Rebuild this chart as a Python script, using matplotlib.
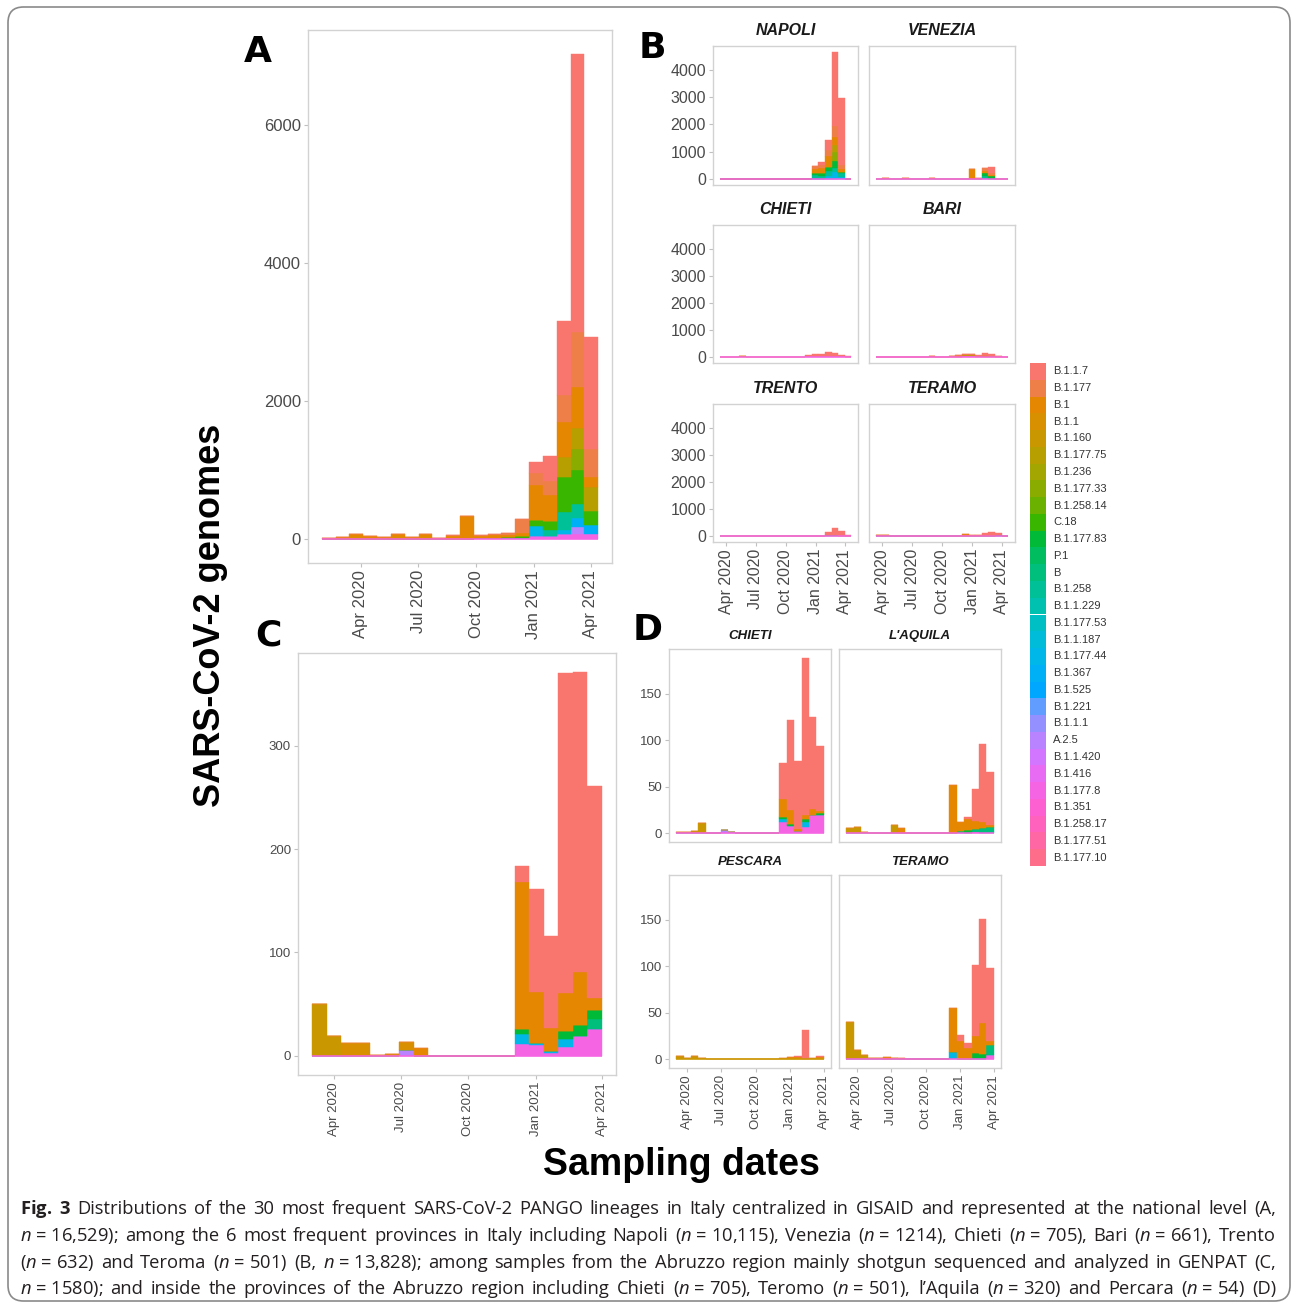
import numpy as np
import matplotlib
matplotlib.use('Agg')
import matplotlib.pyplot as plt
import matplotlib.dates as mdates
from matplotlib.patches import Rectangle, FancyBboxPatch

W, H = 1292, 1307
CAP_FONT = 'Open Sans'
plt.rcParams['font.family'] = ['Liberation Sans', 'DejaVu Sans']
plt.rcParams['mathtext.fontset'] = 'custom'
plt.rcParams['mathtext.rm'] = CAP_FONT
plt.rcParams['mathtext.it'] = CAP_FONT + ':italic'
plt.rcParams['mathtext.bf'] = CAP_FONT + ':bold'

# ---- data -------------------------------------------------------------
LINEAGES = ['B.1.1.7', 'B.1.177', 'B.1', 'B.1.1', 'B.1.160', 'B.1.177.75', 'B.1.236',
            'B.1.177.33', 'B.1.258.14', 'C.18', 'B.1.177.83', 'P.1', 'B', 'B.1.258',
            'B.1.1.229', 'B.1.177.53', 'B.1.1.187', 'B.1.177.44', 'B.1.367', 'B.1.525',
            'B.1.221', 'B.1.1.1', 'A.2.5', 'B.1.1.420', 'B.1.416', 'B.1.177.8', 'B.1.351',
            'B.1.258.17', 'B.1.177.51', 'B.1.177.10']

NBINS = 20
A_RANGE = ('2020-01-30', '2021-04-13')
B_RANGE = ('2020-03-12', '2021-04-21')
CD_RANGE = ('2020-03-03', '2021-04-01')
TICK_DATES = ['2020-04-01', '2020-07-01', '2020-10-01', '2021-01-01', '2021-04-01']
TICK_LABELS = ['Apr 2020', 'Jul 2020', 'Oct 2020', 'Jan 2021', 'Apr 2021']

# counts per lineage: {bin index: genomes}
italy = {
    'B.1.1.7': {15: 168, 16: 375, 17: 1070, 18: 4020, 19: 1617},
    'B.1.177': {9: 20, 11: 10, 12: 20, 13: 30, 14: 200, 15: 168, 16: 192, 17: 400, 18: 800, 19: 400},
    'B.1': {0: 5, 1: 15, 2: 50, 3: 20, 4: 10, 5: 45, 6: 15, 7: 40, 8: 10, 9: 40, 10: 327,
            11: 30, 12: 40, 13: 40, 14: 50, 15: 505, 16: 385, 17: 500, 18: 600, 19: 150},
    'B.1.1': {1: 5, 2: 25, 3: 15, 4: 10, 5: 20, 6: 10, 7: 30},
    'B.1.177.75': {17: 300, 18: 300, 19: 350},
    'B.1.177.33': {18: 300},
    'C.18': {11: 5, 12: 10, 13: 10, 14: 15, 15: 96, 16: 120, 17: 500, 18: 500, 19: 200},
    'B.1.258': {13: 5, 14: 8, 16: 96, 17: 260, 18: 200},
    'B.1.177.44': {15: 144, 17: 60},
    'B.1.367': {18: 125, 19: 125},
    'A.2.5': {18: 100},
    'B.1.177.8': {11: 5, 12: 5, 13: 5, 14: 10, 15: 38, 16: 38, 17: 70, 18: 75, 19: 75},
}

napoli = {
    'B.1.1.7': {15: 108, 16: 365, 17: 2700, 18: 2480},
    'B.1.177': {14: 104, 15: 100, 16: 235, 17: 400, 18: 150},
    'B.1': {3: 5, 6: 5, 14: 150, 15: 200, 16: 400, 17: 300, 18: 100},
    'B.1.177.75': {17: 250},
    'B.1.177.33': {17: 350},
    'B.1.177.83': {14: 100, 15: 100, 16: 150, 17: 250, 18: 50},
    'B.1.258': {14: 120, 15: 100, 16: 170, 17: 150, 18: 150},
    'B.1.177.44': {16: 100, 17: 250},
    'B.1.367': {18: 50},
    'B.1.177.8': {19: 2},
}
venezia = {
    'B.1.1.7': {17: 200},
    'B.1.177': {15: 16, 16: 90, 17: 75},
    'B.1': {1: 10, 4: 10, 8: 10, 14: 353, 16: 100, 17: 50},
    'B.1.177.83': {16: 100, 17: 100},
    'B.1.258': {16: 100},
    'B.1.177.8': {12: 1},
}
chieti_b = {
    'B.1.1.7': {13: 30, 14: 75, 15: 85, 16: 130, 17: 110, 18: 45, 19: 20},
    'B.1': {13: 30, 14: 25, 15: 15, 16: 15, 17: 10, 18: 5},
    'B.1.160': {0: 2, 1: 2, 3: 11},
    'B.1.177.8': {5: 4, 13: 10, 14: 15, 15: 10, 16: 20, 17: 20, 18: 10, 19: 5},
}
bari = {
    'B.1.1.7': {15: 50, 16: 80, 17: 70, 18: 20},
    'B.1.177': {12: 30, 13: 60, 14: 60, 15: 20, 16: 30, 17: 20, 18: 5},
    'B.1': {2: 6, 8: 10, 11: 20, 12: 30},
    'B.1.177.75': {13: 40, 14: 45, 15: 10, 16: 20, 17: 10, 18: 5},
    'B.1.177.8': {13: 10, 14: 10},
}
trento = {
    'B.1.1.7': {16: 110, 17: 240, 18: 165, 19: 35},
    'B.1.177': {0: 4, 16: 10, 17: 15, 18: 10, 19: 5},
    'B.1': {5: 4, 9: 4},
    'B.1.177.83': {16: 10, 17: 15, 18: 5},
    'B.1.177.8': {17: 1},
}
teramo_b = {
    'B.1.1.7': {14: 6, 15: 6, 16: 77, 17: 110, 18: 60},
    'B.1': {13: 47, 14: 19, 15: 14, 16: 20, 17: 33, 18: 10},
    'B.1.160': {0: 45, 1: 10, 2: 5},
    'B.1.177.83': {16: 7, 17: 6},
    'B': {18: 10},
    'B.1.177.44': {13: 8},
    'B.1.177.8': {18: 5},
}

abruzzo = {
    'B.1.1.7': {14: 16, 15: 99, 16: 89, 17: 309, 18: 290, 19: 205},
    'B.1': {7: 8, 14: 142, 15: 50, 16: 22, 17: 37, 18: 51, 19: 12},
    'B.1.1': {2: 12, 3: 12, 4: 1, 5: 2, 6: 7},
    'B.1.160': {0: 50, 1: 19},
    'B.1.177.83': {14: 5, 17: 8, 18: 11, 19: 8},
    'B': {19: 10},
    'B.1.177.44': {14: 10, 15: 2, 16: 2, 17: 7},
    'A.2.5': {6: 6},
    'B.1.177.8': {14: 11, 15: 10, 16: 3, 17: 9, 18: 19, 19: 26},
}

chieti_d = {
    'B.1.1.7': {14: 39, 15: 97, 16: 73, 17: 169, 18: 99, 19: 70},
    'B.1': {14: 20, 15: 15, 16: 3, 17: 5, 18: 6, 19: 2},
    'B.1.160': {0: 1, 1: 1, 2: 2, 3: 11},
    'B.1.177.83': {14: 2, 15: 2, 17: 3, 19: 2},
    'B.1.177.44': {14: 3, 17: 5},
    'A.2.5': {6: 4, 7: 1},
    'B.1.177.8': {14: 12, 15: 8, 16: 2, 17: 7, 18: 20, 19: 20},
}
laquila = {
    'B.1.1.7': {16: 3, 17: 35, 18: 84, 19: 57},
    'B.1': {7: 6, 14: 52, 15: 10, 16: 12, 17: 8, 18: 6, 19: 2},
    'B.1.160': {0: 6, 1: 7, 2: 1, 6: 9},
    'B.1.177.83': {16: 3},
    'B': {15: 2, 17: 4, 18: 6, 19: 7},
    'B.1.177.8': {17: 1},
}
pescara = {
    'B.1.1.7': {16: 2, 17: 32, 19: 1},
    'B.1': {14: 1, 15: 2, 16: 2, 18: 1, 19: 2},
    'B.1.160': {0: 3, 1: 1, 2: 4, 3: 1},
}
teramo_d = {
    'B.1.1.7': {15: 6, 16: 6, 17: 77, 18: 112, 19: 78},
    'B.1': {5: 2, 7: 1, 14: 47, 15: 20, 16: 12, 17: 18, 18: 33, 19: 5},
    'B.1.160': {0: 40, 1: 10, 2: 5, 3: 1, 4: 1, 6: 1},
    'B.1.177.83': {17: 7, 18: 6},
    'B': {19: 10},
    'B.1.177.44': {14: 8},
    'B.1.177.8': {19: 5},
}

CAPTION = [
    r'$\mathbf{Fig.}$ $\mathbf{3}$ Distributions of the 30 most frequent SARS-CoV-2 PANGO lineages in Italy '
    r'centralized in GISAID and represented at the national level (A,',
    r'$n$ = 16,529); among the 6 most frequent provinces in Italy including Napoli ($n$ = 10,115), '
    r'Venezia ($n$ = 1214), Chieti ($n$ = 705), Bari ($n$ = 661), Trento',
    r'($n$ = 632) and Teroma ($n$ = 501) (B, $n$ = 13,828); among samples from the Abruzzo region '
    r'mainly shotgun sequenced and analyzed in GENPAT (C,',
    r'$n$ = 1580); and inside the provinces of the Abruzzo region including Chieti ($n$ = 705), '
    r'Teromo ($n$ = 501), l’Aquila ($n$ = 320) and Percara ($n$ = 54) (D)',
]


# ggplot default hue palette (hcl, c=100, l=65)
def hue_pal(n, c=100, l=65):
    out = []
    Xn, Yn, Zn = 95.047, 100.0, 108.883
    un = 4 * Xn / (Xn + 15 * Yn + 3 * Zn)
    vn = 9 * Yn / (Xn + 15 * Yn + 3 * Zn)
    M = np.array([[3.240479, -1.537150, -0.498535],
                  [-0.969256, 1.875992, 0.041556],
                  [0.055648, -0.204043, 1.057311]])
    for h in np.linspace(15, 375, n + 1)[:-1]:
        hr = np.deg2rad(h)
        u, v = c * np.cos(hr), c * np.sin(hr)
        Y = Yn * ((l + 16) / 116) ** 3
        up = u / (13 * l) + un
        vp = v / (13 * l) + vn
        X = 9 * Y * up / (4 * vp)
        Z = Y * (12 - 3 * up - 20 * vp) / (4 * vp)
        rgb = M @ np.array([X, Y, Z]) / 100
        rgb = np.where(rgb > 0.0031308, 1.055 * np.abs(rgb) ** (1 / 2.4) - 0.055, 12.92 * rgb)
        out.append(tuple(np.clip(rgb, 0, 1)))
    return out


PAL = hue_pal(len(LINEAGES))


def dnum(s):
    return mdates.date2num(np.datetime64(s))


def totals(counts):
    t = np.zeros(NBINS)
    for name in counts:
        for b, v in counts[name].items():
            t[b] += v
    return t


def px_axes(fig, x0, y0, x1, y1):
    return fig.add_axes([x0 / W, 1 - y1 / H, (x1 - x0) / W, (y1 - y0) / H])


def draw_hist(ax, counts, drange, ymax):
    s, e = dnum(drange[0]), dnum(drange[1])
    edges = np.linspace(s, e, NBINS + 1)
    bottom = np.zeros(NBINS)
    present = [i for i, name in enumerate(LINEAGES) if name in counts]
    for i in reversed(present):
        h = np.zeros(NBINS)
        for b, v in counts[LINEAGES[i]].items():
            h[b] = v
        ax.bar(edges[:-1], h, width=np.diff(edges), bottom=bottom, align='edge',
               color=PAL[i], edgecolor=PAL[i], linewidth=0.3)
        bottom += h
    ax.plot([edges[0], edges[-1]], [0, 0], color=PAL[max(present)], lw=1.1,
            solid_capstyle='butt')
    pad = 0.05 * (e - s)
    ax.set_xlim(s - pad, e + pad)
    ax.set_ylim(-0.05 * ymax, 1.05 * ymax)


def style(ax, yticks, fs, show_x=True, show_y=True):
    for sp in ax.spines.values():
        sp.set_color('#d2d2d2')
        sp.set_linewidth(1.0)
    ax.set_xticks([dnum(d) for d in TICK_DATES])
    ax.set_xticklabels(TICK_LABELS, rotation=90)
    ax.set_yticks(yticks)
    ax.tick_params(color='#c0c0c0', labelcolor='#4a4a4a', labelsize=fs,
                   length=3, width=0.8, pad=2)
    if not show_x:
        ax.tick_params(axis='x', length=0, labelbottom=False)
    if not show_y:
        ax.tick_params(axis='y', length=0, labelleft=False)


def facet_title(ax, txt, fs, off):
    ax.annotate(txt, xy=(0.5, 1), xycoords='axes fraction', xytext=(0, off),
                textcoords='offset points', ha='center', va='center',
                fontsize=fs, fontweight='bold', fontstyle='italic', color='#1a1a1a')


fig = plt.figure(figsize=(W / 100, H / 100), dpi=100)

# ---- A ----
axA = px_axes(fig, 308, 30, 612, 563)
draw_hist(axA, italy, A_RANGE, totals(italy).max())
style(axA, [0, 2000, 4000, 6000], 12)

# ---- B ----
b_facets = [('NAPOLI', napoli), ('VENEZIA', venezia), ('CHIETI', chieti_b),
            ('BARI', bari), ('TRENTO', trento), ('TERAMO', teramo_b)]
b_max = max(totals(c).max() for _, c in b_facets)
b_cols = [(713, 858), (869, 1015)]
b_rows = [(46, 185), (225, 363), (404, 542)]
for k, (name, cnt) in enumerate(b_facets):
    r, c = divmod(k, 2)
    ax = px_axes(fig, b_cols[c][0], b_rows[r][0], b_cols[c][1], b_rows[r][1])
    draw_hist(ax, cnt, B_RANGE, b_max)
    style(ax, [0, 1000, 2000, 3000, 4000], 11.5, show_x=(r == 2), show_y=(c == 0))
    facet_title(ax, name, 11.5, 11)

# ---- C ----
axC = px_axes(fig, 298, 653, 616, 1075)
draw_hist(axC, abruzzo, CD_RANGE, totals(abruzzo).max())
style(axC, [0, 100, 200, 300], 9.5)

# ---- D ----
d_facets = [('CHIETI', chieti_d), ("L'AQUILA", laquila), ('PESCARA', pescara),
            ('TERAMO', teramo_d)]
d_max = max(totals(c).max() for _, c in d_facets)
d_cols = [(669, 831), (839, 1001)]
d_rows = [(649, 842), (875, 1068)]
for k, (name, cnt) in enumerate(d_facets):
    r, c = divmod(k, 2)
    ax = px_axes(fig, d_cols[c][0], d_rows[r][0], d_cols[c][1], d_rows[r][1])
    draw_hist(ax, cnt, CD_RANGE, d_max)
    style(ax, [0, 50, 100, 150], 9.5, show_x=(r == 1), show_y=(c == 0))
    facet_title(ax, name, 9.5, 9.5)

# ---- legend ----
axL = px_axes(fig, 1030, 363, 1130, 866)
axL.set_xlim(0, 100)
axL.set_ylim(503, 0)
axL.axis('off')
kh = 503 / len(LINEAGES)
for i, name in enumerate(LINEAGES):
    axL.add_patch(Rectangle((0, i * kh), 16, kh, color=PAL[i], lw=0))
    axL.text(23, (i + 0.5) * kh, name, fontsize=8, va='center', ha='left', color='#333333')

# ---- panel letters and axis titles ----
for letter, x, y in [('A', 258, 52), ('B', 652, 48), ('C', 268, 636), ('D', 648, 630)]:
    fig.text(x / W, 1 - y / H, letter, fontsize=26, fontweight='bold',
             family='DejaVu Sans', ha='center', va='center')
fig.text(210 / W, 1 - 615 / H, 'SARS-CoV-2 genomes', rotation=90, fontsize=26,
         fontweight='bold', ha='center', va='center')
fig.text(681 / W, 1 - 1165 / H, 'Sampling dates', fontsize=27, fontweight='bold',
         ha='center', va='center')


# ---- caption (justified lines) ----
def caption_tokens(line):
    words = line.split(' ')
    toks = []
    i = 0
    while i < len(words):
        w = words[i]
        if i + 2 < len(words) and words[i + 1] == '=':
            w = w + ' = ' + words[i + 2]
            i += 2
        toks.append(w)
        i += 1
    return toks


renderer = fig.canvas.get_renderer()
x_left, x_right = 20, 1276
for line, y in zip(CAPTION, [1209, 1236, 1263, 1289]):
    words = caption_tokens(line)
    texts = [fig.text(0, 1 - y / H, w, fontsize=13.2, family=CAP_FONT,
                      ha='left', va='center', color='#231f20') for w in words]
    widths = [t.get_window_extent(renderer).width for t in texts]
    gap = (x_right - x_left - sum(widths)) / (len(words) - 1)
    x = x_left
    for t, w in zip(texts, widths):
        t.set_x(x / W)
        x += w + gap

fig.patches.append(FancyBboxPatch((8 / W, 6 / H), 1282 / W, 1294 / H,
                                  boxstyle='round,pad=0,rounding_size=0.012',
                                  transform=fig.transFigure, fill=False,
                                  edgecolor='#8a8a8a', lw=1.2))

fig.savefig('out.png', dpi=100)
